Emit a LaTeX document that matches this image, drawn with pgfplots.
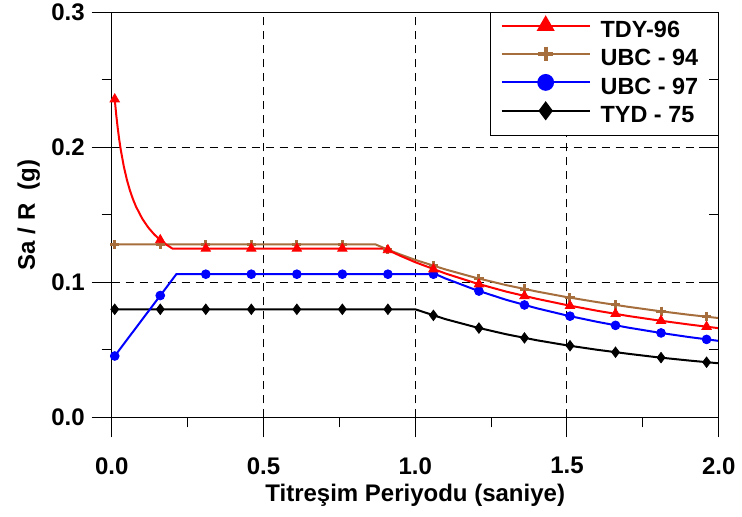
\documentclass[border=0pt]{standalone}
\usepackage{pgfplots}
\pgfplotsset{compat=1.18}
\usepackage{fontspec}
\setmainfont{Liberation Sans}
\definecolor{tdy}{HTML}{FF0000}
\definecolor{ubcb}{HTML}{A66E3C}
\definecolor{ubcc}{HTML}{0000FF}
\newcommand{\lblfont}{\bfseries\fontsize{12}{14}\selectfont}
\newcommand{\legfont}{\bfseries\fontsize{11.7}{13}\selectfont}

\begin{document}
\begin{tikzpicture}
  % 1px of the reference = 0.5pt; origin of the plot at (111.7px, 417.3px)
  \useasboundingbox (-55.85pt,-49.85pt) rectangle (315.15pt,208.65pt);
  \begin{axis}[
    at={(0,0)}, anchor=south west,
    scale only axis, width=303.5pt, height=202.5pt,
    xmin=0, xmax=2, ymin=0, ymax=0.3,
    xtick={0,0.5,1,1.5,2}, ytick={0,0.1,0.2,0.3},
    minor x tick num=1, minor y tick num=1,
    tick align=outside, tick pos=left,
    major tick length=10pt, minor tick length=5pt,
    every tick/.style={black, line width=0.5pt},
    axis line style={black, line width=0.6pt},
    grid=major, major grid style={black, line width=0.5pt, dash pattern=on 4pt off 3pt},
    /pgf/number format/assume math mode=true,
    xticklabel style={/pgf/number format/.cd, fixed, fixed zerofill, precision=1},
    yticklabel style={/pgf/number format/.cd, fixed, fixed zerofill, precision=1},
    tick label style={font=\lblfont},
    xticklabel shift=6.5pt,
    xlabel={Titreşim Periyodu (saniye)},
    ylabel={Sa / R\ \ (g)},
    xlabel style={font=\lblfont, at={(axis description cs:0.5,-0.2067)}, anchor=base},
    ylabel style={font=\lblfont, at={(axis description cs:-0.1264,0.5)}, anchor=base},
    legend style={at={(1,1)}, anchor=north east, draw=black, line width=0.5pt,
      fill=white, font=\legfont, inner xsep=5pt, inner ysep=2.2pt, row sep=0pt,
      column sep=0pt,
      nodes={inner xsep=5pt, inner ysep=1.6pt, text height=8.5pt, text depth=2.5pt}},
    legend cell align=left,
    legend image code/.code={
      \draw[mark repeat=2, mark phase=2]
        plot coordinates {(0pt,3pt) (22pt,3pt) (44pt,3pt)};
    },
  ]
    \addlegendimage{tdy, line width=1pt, mark=triangle*, mark size=4.2pt, mark options={solid}}
    \addlegendentry{TDY-96}
    \addlegendimage{ubcb, line width=1pt, mark=+, mark size=3.7pt, mark options={line width=2pt}}
    \addlegendentry{UBC - 94}
    \addlegendimage{ubcc, line width=1pt, mark=*, mark size=3.7pt}
    \addlegendentry{UBC - 97\hspace{13pt}}
    \addlegendimage{black, line width=1pt, mark=diamond*, mark size=4pt}
    \addlegendentry{TYD - 75}

    % TYD - 75
    \addplot[black, line width=1pt, forget plot] coordinates {
      (0.01,0.0800) (1.00,0.0800) (1.10,0.0727) (1.20,0.0667) (1.30,0.0615)
      (1.40,0.0571) (1.50,0.0533) (1.60,0.0500) (1.70,0.0471) (1.80,0.0444)
      (1.90,0.0421) (2.00,0.0400)
    };
    \addplot[only marks, black, mark=diamond*, mark size=2.6pt, forget plot] coordinates {
      (0.01,0.0800) (0.16,0.0800) (0.31,0.0800) (0.46,0.0800) (0.61,0.0800)
      (0.76,0.0800) (0.91,0.0800) (1.06,0.0755) (1.21,0.0661) (1.36,0.0588)
      (1.51,0.0530) (1.66,0.0482) (1.81,0.0442) (1.96,0.0408)
    };

    % UBC - 97
    \addplot[ubcc, line width=1pt, forget plot] coordinates {
      (0.01,0.0454) (0.213,0.1060) (1.067,0.1060) (1.10,0.1028) (1.20,0.0943)
      (1.30,0.0870) (1.40,0.0808) (1.50,0.0754) (1.60,0.0707) (1.70,0.0665)
      (1.80,0.0628) (1.90,0.0595) (2.00,0.0566)
    };
    \addplot[only marks, ubcc, mark=*, mark size=2.2pt, forget plot] coordinates {
      (0.01,0.0454) (0.16,0.0902) (0.31,0.1060) (0.46,0.1060) (0.61,0.1060)
      (0.76,0.1060) (0.91,0.1060) (1.06,0.1060) (1.21,0.0935) (1.36,0.0832)
      (1.51,0.0749) (1.66,0.0681) (1.81,0.0625) (1.96,0.0577)
    };

    % UBC - 94
    \addplot[ubcb, line width=1pt, forget plot] coordinates {
      (0.01,0.1280) (0.87,0.1280) (0.90,0.1251) (0.95,0.1207) (1.00,0.1166)
      (1.10,0.1095) (1.20,0.1033) (1.30,0.0979) (1.40,0.0932) (1.50,0.0890)
      (1.60,0.0853) (1.70,0.0819) (1.80,0.0788) (1.90,0.0760) (2.00,0.0735)
    };
    \addplot[only marks, ubcb, mark=+, mark size=2.3pt, mark options={line width=1.5pt}, forget plot] coordinates {
      (0.01,0.1280) (0.16,0.1280) (0.31,0.1280) (0.46,0.1280) (0.61,0.1280)
      (0.76,0.1280) (0.91,0.1242) (1.06,0.1122) (1.21,0.1027) (1.36,0.0950)
      (1.51,0.0886) (1.66,0.0832) (1.81,0.0785) (1.96,0.0745)
    };

    % TDY-96
    \addplot[tdy, line width=1pt, forget plot] coordinates {
      (0.01,0.2356) (0.015,0.2239) (0.02,0.2140) (0.025,0.2054) (0.03,0.1980)
      (0.04,0.1857) (0.05,0.1760) (0.06,0.1681) (0.07,0.1616) (0.08,0.1561)
      (0.10,0.1474) (0.12,0.1407) (0.14,0.1355) (0.16,0.1313) (0.18,0.1279)
      (0.20,0.1250) (0.90,0.1250) (0.95,0.1197) (1.00,0.1149) (1.10,0.1065)
      (1.20,0.0993) (1.30,0.0931) (1.40,0.0878) (1.50,0.0831) (1.60,0.0789)
      (1.70,0.0751) (1.80,0.0718) (1.90,0.0688) (2.00,0.0660)
    };
    \addplot[only marks, tdy, mark=triangle*, mark size=2.7pt, forget plot] coordinates {
      (0.01,0.2356) (0.16,0.1313) (0.31,0.1250) (0.46,0.1250) (0.61,0.1250)
      (0.76,0.1250) (0.91,0.1239) (1.06,0.1097) (1.21,0.0986) (1.36,0.0898)
      (1.51,0.0826) (1.66,0.0766) (1.81,0.0715) (1.96,0.0671)
    };
  \end{axis}
  % inward ticks on the right-hand side
  \begin{axis}[
    at={(0,0)}, anchor=south west,
    scale only axis, width=303.5pt, height=202.5pt,
    xmin=0, xmax=2, ymin=0, ymax=0.3,
    hide x axis, axis y line*=right,
    ytick={0,0.1,0.2,0.3}, yticklabels={}, minor y tick num=1,
    tick align=inside, major tick length=10pt, minor tick length=5pt,
    every tick/.style={black, line width=0.5pt},
    axis line style={black, line width=0.6pt},
  ]
  \end{axis}
\end{tikzpicture}
\end{document}
